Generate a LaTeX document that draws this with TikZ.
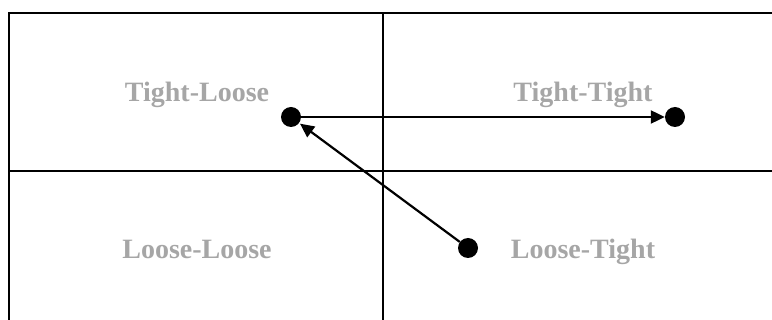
\documentclass[tikz,border=0pt]{standalone}
\usepackage{fontspec}
\setmainfont{Liberation Serif}
\usetikzlibrary{arrows.meta}
\definecolor{etichetta}{RGB}{166,166,166}
\begin{document}
\begin{tikzpicture}[
    x=1pt, y=-1pt,
    font=\fontsize{28}{30}\selectfont\bfseries,
    griglia/.style={line width=2pt,black},
    quadrante/.style={text=etichetta,anchor=base,inner sep=0pt},
    punto/.style={circle,fill=black,inner sep=0pt,minimum size=20pt},
    freccia/.style={line width=2.2pt,-{Triangle[length=14pt,width=13pt]}}]

  \clip (0,0) rectangle (772,320);

  % ---- la griglia dei quattro quadranti -------------------------------------
  \draw[griglia] (8.5,330) -- (8.5,13) -- (790,13);   % bordo esterno
  \draw[griglia] (383,13) -- (383,330);               % divisione verticale
  \draw[griglia] (8.5,171) -- (790,171);              % divisione orizzontale

  % ---- i nomi dei quadranti -------------------------------------------------
  \node[quadrante] (tl) at (197,102) {Tight-Loose};
  \node[quadrante] (tt) at (583,102) {Tight-Tight};
  \node[quadrante] (ll) at (197,259) {Loose-Loose};
  \node[quadrante] (lt) at (583,259) {Loose-Tight};

  % ---- i punti --------------------------------------------------------------
  \node[punto] (pTL) at (291,117) {};
  \node[punto] (pTT) at (675,117) {};
  \node[punto] (pLT) at (468,248) {};

  % ---- le frecce ------------------------------------------------------------
  \draw[freccia] (pTL) -- (pTT);
  \draw[freccia,shorten >=1pt] (pLT) -- (pTL);

\end{tikzpicture}
\end{document}
